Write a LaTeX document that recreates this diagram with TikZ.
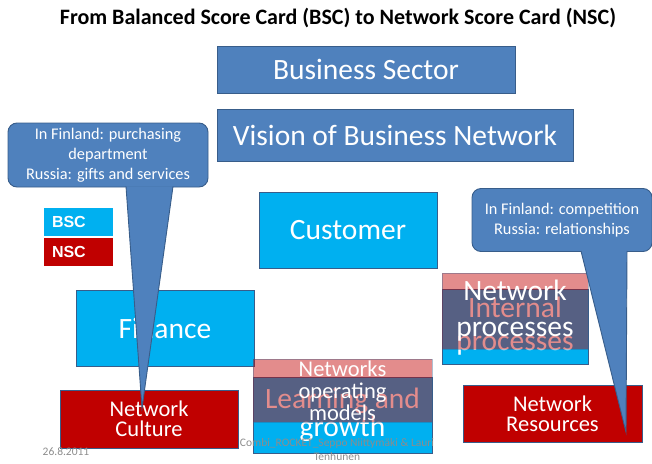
\documentclass[tikz,border=0pt]{standalone}
\usepackage{fontspec}
\setmainfont{Carlito}
\newfontfamily\arialfont{Liberation Sans}
\definecolor{boxblue}{HTML}{4F81BD}
\definecolor{edgeblue}{HTML}{385D8A}
\definecolor{bsccyan}{HTML}{00B0F0}
\definecolor{nscred}{HTML}{C00000}
\definecolor{footgray}{HTML}{8C8C8C}

\begin{document}
\begin{tikzpicture}[x=1pt, y=-1pt,
  box/.style={draw=edgeblue, line width=0.9pt, text=white, align=center, inner sep=0pt},
  big/.style={font=\fontsize{29.5}{33}\selectfont},
  mid/.style={font=\fontsize{22.5}{20}\selectfont},
  plain/.style={box, fill=boxblue},
  bsc/.style={box, fill=bsccyan},
  nsc/.style={box, fill=nscred},
  nscover/.style={box, fill=nscred, fill opacity=0.45, text opacity=1, draw opacity=0.4},
  note/.style={fill=boxblue, draw=edgeblue, line width=0.9pt, text=white, align=center,
    rounded corners=9pt, font=\fontsize{16.3}{20}\selectfont, inner sep=0pt},
  tail/.style={fill=boxblue, draw=edgeblue, line width=0.9pt},
  legend/.style={text=white, font=\arialfont\bfseries\fontsize{16}{16}\selectfont,
    text width=53pt, align=left, inner xsep=8pt, inner ysep=0pt, minimum height=28pt},
  foot/.style={text=footgray, font=\fontsize{11.5}{14}\selectfont, align=center}
]
  \useasboundingbox (0,0) rectangle (652,463);
  \node[font=\bfseries\fontsize{22}{24}\selectfont] (title) at (338,18)
    {From Balanced Score Card (BSC) to Network Score Card (NSC)};

  \node[plain, big, minimum width=298pt, minimum height=47pt] (sector) at (366,69.5) {Business Sector};
  \node[plain, big, minimum width=356pt, minimum height=52pt] (vision) at (395,135) {Vision of Business Network};

  \node[bsc, big, minimum width=178pt, minimum height=76pt] (customer) at (348,230) {Customer};
  \node[bsc, big, minimum width=178pt, minimum height=76pt] (finance) at (165,328) {Finance};

  % BSC box first, the NSC box lies half see-through over it
  \node[bsc, big, minimum width=146pt, minimum height=75pt] (internal) at (515,326.5) {Internal\\processes};
  \node[nscover, font=\fontsize{29.5}{36}\selectfont, minimum width=146pt, minimum height=76pt] (netproc) at (515,311) {Network\\processes};
  \node[bsc, font=\fontsize{29.5}{28}\selectfont, minimum width=179pt, minimum height=76pt] (learning) at (342.5,415) {Learning and\\growth};
  \node[nscover, font=\fontsize{22.5}{22}\selectfont, minimum width=179pt, minimum height=63pt] (netops) at (342.5,390.5) {Networks\\operating\\models};

  \node[nsc, mid, minimum width=178pt, minimum height=58pt] (culture) at (149,419) {Network\\Culture};
  \node[nsc, mid, minimum width=179pt, minimum height=57pt] (resources) at (552.5,413.5) {Network\\Resources};

  \node[legend, fill=bsccyan] (bsclab) at (78.5,222) {BSC};
  \node[legend, fill=nscred] (nsclab) at (78.5,252) {NSC};

  % callouts
  \node[note, minimum width=200pt, minimum height=64pt] (finnote) at (108,155)
    {In Finland: purchasing\\department\\Russia: gifts and services};
  \coordinate (fintip) at (142,408);
  \filldraw[tail] ([xshift=18pt,yshift=1pt]finnote.south) -- (fintip) -- ([xshift=65pt,yshift=1pt]finnote.south);

  \node[note, minimum width=180pt, minimum height=63pt] (rusnote) at (562,220)
    {In Finland: competition\\Russia: relationships};
  \coordinate (rustip) at (626,432);
  \filldraw[tail] ([xshift=19pt,yshift=1pt]rusnote.south) -- (rustip) -- ([xshift=65pt,yshift=1pt]rusnote.south);

  \node[foot] (date) at (66,452) {26.8.2011};
  \node[foot] (credit) at (337,450) {Combi\_ROCKET\_Seppo Niittymäki \& Lauri\\Tenhunen};
\end{tikzpicture}
\end{document}
